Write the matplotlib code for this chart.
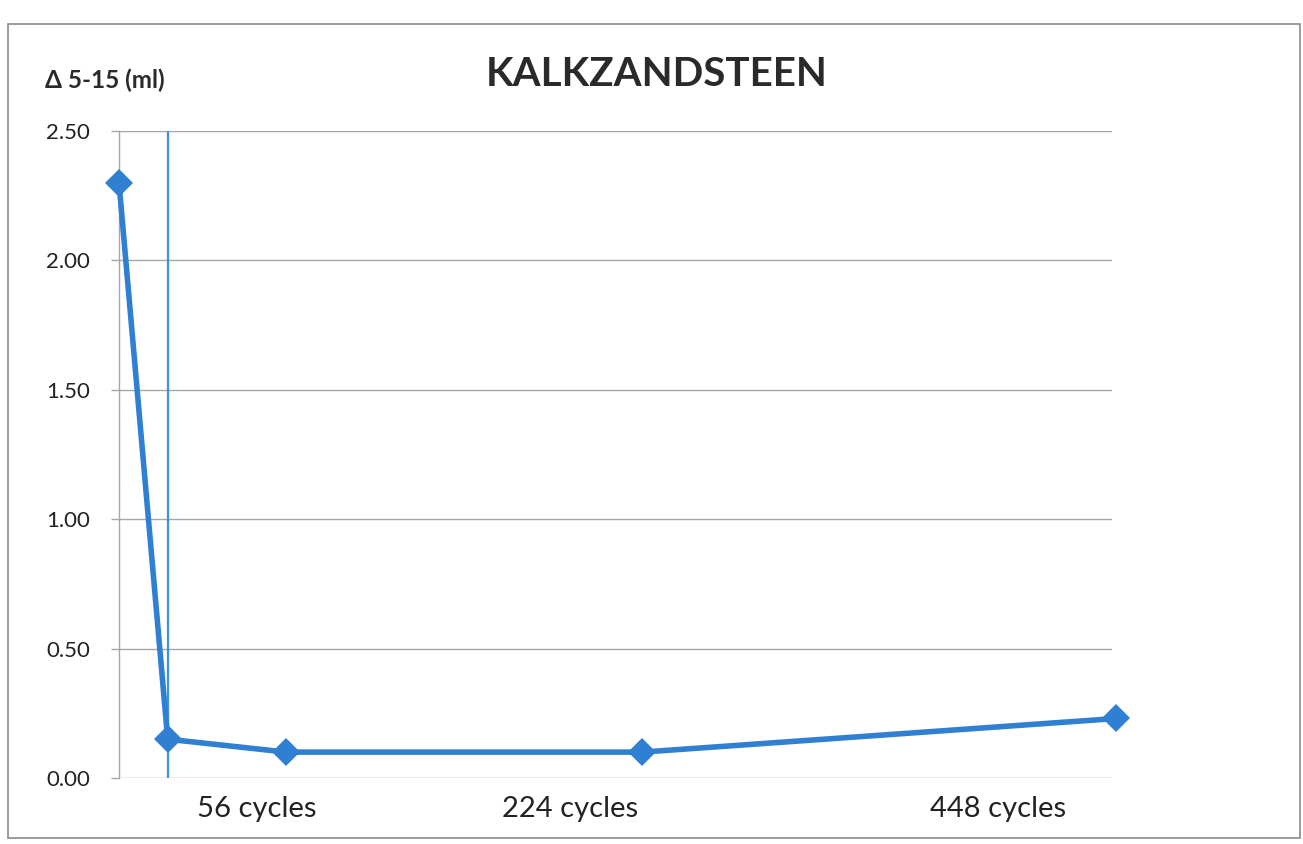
import matplotlib
matplotlib.use("Agg")
import matplotlib.pyplot as plt
from matplotlib.patches import Rectangle

# data
cycles = [-23, 0, 56, 224, 448]
values = [2.30, 0.15, 0.10, 0.10, 0.23]
x_labels = ["56 cycles", "224 cycles", "448 cycles"]
x_label_pos = [42, 190, 392]
y_ticks = [0.0, 0.5, 1.0, 1.5, 2.0, 2.5]
title = "KALKZANDSTEEN"
y_title = "Δ 5-15 (ml)"

plt.rcParams['font.family'] = ['Lato', 'DejaVu Sans']

W, H = 1303, 844
fig = plt.figure(figsize=(W / 100, H / 100), dpi=100)
fig.patch.set_facecolor('white')

# outer frame
fig.add_artist(Rectangle((8 / W, 6 / H), 1292 / W, (820 - 6) / H, transform=fig.transFigure,
                         fill=False, edgecolor='#8a8a8a', linewidth=1.2))

ax = fig.add_axes([119 / W, 1 - 778 / H, (1112 - 119) / W, (778 - 131) / H])
ax.set_xlim(-23, 446)
ax.set_ylim(0, 2.5)
ax.set_yticks(y_ticks)
ax.set_yticklabels([f"{v:.2f}" for v in y_ticks], fontsize=16, color='#222222')
ax.set_xticks([])
ax.yaxis.grid(True, color='#a6a6a6', linewidth=1.0)
ax.set_axisbelow(True)
for s in ['top', 'right', 'bottom']:
    ax.spines[s].set_visible(False)
ax.spines['left'].set_color('#a6a6a6')
ax.spines['left'].set_linewidth(1.0)
ax.tick_params(axis='y', length=6, width=1.0, color='#a6a6a6', pad=15)

ax.axvline(0, color='#3a92e0', linewidth=1.6, zorder=2)
ax.plot(cycles, values, color='#2f7fd2', linewidth=4.0, marker='D', markersize=14,
        markeredgewidth=0, clip_on=False, zorder=3)

for lx, lab in zip(x_label_pos, x_labels):
    ax.text(lx, -0.12, lab, ha='center', va='center', fontsize=21, color='#222222',
            clip_on=False)

fig.text(657 / W, 1 - 75 / H, title, ha='center', va='center', fontsize=29,
         fontweight='bold', color='#2a2a2a')
fig.text(45 / W, 1 - 80 / H, y_title, ha='left', va='center', fontsize=17.5,
         fontweight='bold', color='#2a2a2a')

fig.savefig('out.png', dpi=100, facecolor='white')
